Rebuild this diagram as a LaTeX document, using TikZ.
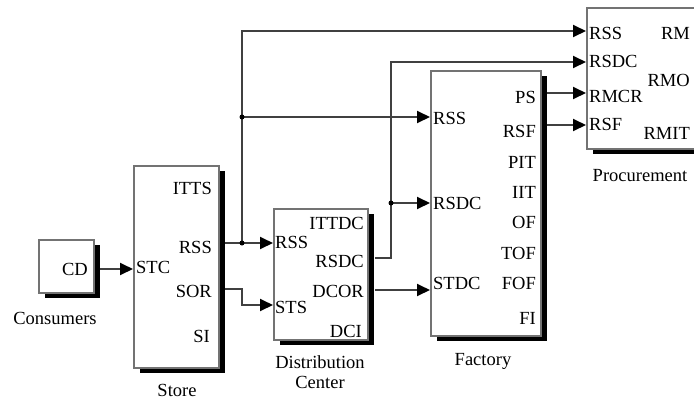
\documentclass[tikz,border=0pt]{standalone}
\usepackage{fontspec}
\setmainfont{Liberation Serif}
\usetikzlibrary{arrows.meta}
\definecolor{boxgray}{gray}{0.45}
\definecolor{wiregray}{gray}{0.25}
\tikzset{
  blockbox/.style={draw=boxgray, line width=1.6pt, fill=white, inner sep=0pt},
  shade/.style={fill=black},
  wire/.style={draw=wiregray, line width=1.9pt},
  sig/.style={wire, -{Triangle[length=13pt,width=12pt,color=black]}},
  junction/.style={circle, fill=black, inner sep=0pt, minimum size=5pt},
  inport/.style={anchor=base west, inner sep=0pt},
  outport/.style={anchor=base east, inner sep=0pt},
  caption/.style={anchor=base, inner sep=0pt},
}
% block: name, x1, y1, x2, y2 (shadow offset to the lower right)
\newcommand\simblock[5]{%
  \fill[shade] (#2+7,#3+6) rectangle (#4+7,#5+6);
  \node[blockbox, anchor=north west, minimum width=#4-#2, minimum height=#5-#3] (#1) at (#2,#3) {};
}
\begin{document}
\begin{tikzpicture}[x=1pt, y=-1pt, font={\rmfamily\fontsize{18.5}{20}\selectfont}]
\clip (0,0) rectangle (694,400);
\fill[white] (0,0) rectangle (694,400);

% blocks
\simblock{cons}{38}{239}{93}{292}
\simblock{store}{133}{165}{218}{367}
\simblock{dc}{273}{208}{367}{339}
\simblock{fac}{430}{70}{540}{335}
\simblock{proc}{586}{7}{720}{148}

% ports
\coordinate (consCD)   at (100,269);
\coordinate (storeSTC) at (133,269);
\coordinate (storeRSS) at (225,243);
\coordinate (storeSOR) at (225,289);
\coordinate (dcRSS)    at (273,243);
\coordinate (dcSTS)    at (273,305);
\coordinate (dcRSDC)   at (375,258);
\coordinate (dcDCOR)   at (375,290);
\coordinate (facRSS)   at (430,117);
\coordinate (facRSDC)  at (430,203);
\coordinate (facSTDC)  at (430,290);
\coordinate (facPS)    at (547,93);
\coordinate (facRSF)   at (547,125);
\coordinate (procRSS)  at (586,31);
\coordinate (procRSDC) at (586,62);
\coordinate (procRMCR) at (586,93);
\coordinate (procRSF)  at (586,125);
\coordinate (j1) at (242,243);
\coordinate (j2) at (242,117);
\coordinate (j3) at (391,203);

% connectors
\draw[sig] (consCD) -- (storeSTC);
\draw[sig] (storeRSS) -- (dcRSS);
\draw[sig] (j1) |- (procRSS);
\draw[sig] (j2) -- (facRSS);
\draw[sig] (storeSOR) -| (242,305) -- (dcSTS);
\draw[sig] (dcRSDC) -| (391,62) -- (procRSDC);
\draw[sig] (j3) -- (facRSDC);
\draw[sig] (dcDCOR) -- (facSTDC);
\draw[sig] (facPS) -- (procRMCR);
\draw[sig] (facRSF) -- (procRSF);
\node[junction] at (j1) {};
\node[junction] at (j2) {};
\node[junction] at (j3) {};

% Consumers
\node[outport] at (88,275) {CD};
\node[caption] at (55,324) {Consumers};

% Store
\node[inport]  at (136,273) {STC};
\node[outport] at (212,194) {ITTS};
\node[outport] at (212,253) {RSS};
\node[outport] at (212,297) {SOR};
\node[outport] at (210,342) {SI};
\node[caption] at (177,396) {Store};

% Distribution Center
\node[inport]  at (275,248) {RSS};
\node[inport]  at (275,313) {STS};
\node[outport] at (364,229) {ITTDC};
\node[outport] at (364,267) {RSDC};
\node[outport] at (364,297) {DCOR};
\node[outport] at (362,337) {DCI};
\node[caption] at (320,368) {Distribution};
\node[caption] at (320,388) {Center};

% Factory
\node[inport]  at (433,124) {RSS};
\node[inport]  at (433,209) {RSDC};
\node[inport]  at (433,289) {STDC};
\node[outport] at (536,103) {PS};
\node[outport] at (536,137) {RSF};
\node[outport] at (536,168) {PIT};
\node[outport] at (536,198) {IIT};
\node[outport] at (536,228) {OF};
\node[outport] at (536,259) {TOF};
\node[outport] at (536,289) {FOF};
\node[outport] at (536,324) {FI};
\node[caption] at (483,365) {Factory};

% Procurement
\node[inport]  at (589,39)  {RSS};
\node[inport]  at (589,67)  {RSDC};
\node[inport]  at (589,102) {RMCR};
\node[inport]  at (589,130) {RSF};
\node[outport] at (690,39)  {RM};
\node[outport] at (690,86)  {RMO};
\node[outport] at (690,139) {RMIT};
\node[caption] at (640,181) {Procurement};
\end{tikzpicture}
\end{document}
